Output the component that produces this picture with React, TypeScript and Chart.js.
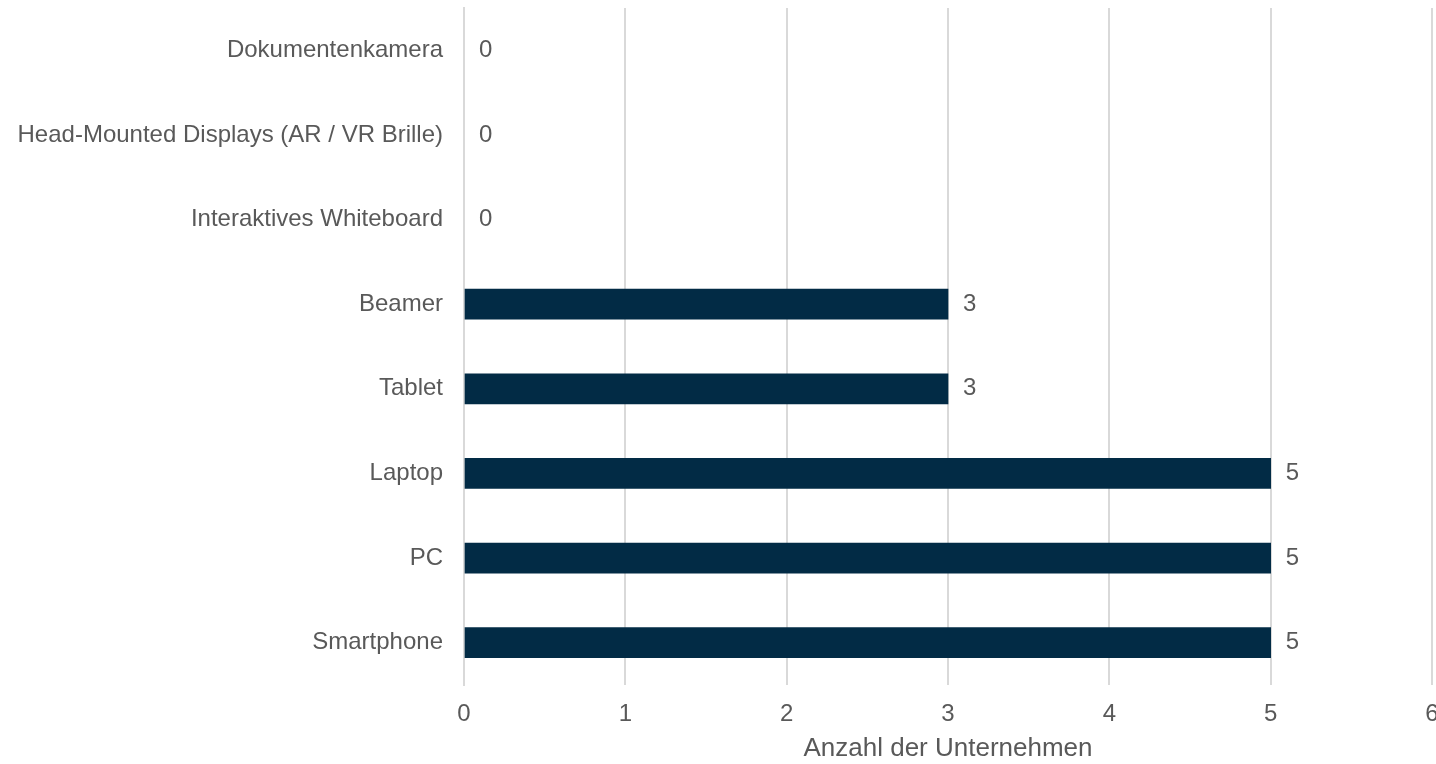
import React, { useEffect, useRef } from "react";
import { Chart, registerables } from "chart.js";

Chart.register(...registerables);

const categories = [
  "Dokumentenkamera",
  "Head-Mounted Displays (AR / VR Brille)",
  "Interaktives Whiteboard",
  "Beamer",
  "Tablet",
  "Laptop",
  "PC",
  "Smartphone",
];
const values = [0, 0, 0, 3, 3, 5, 5, 5];
const xTitle = "Anzahl der Unternehmen";

const FONT = "'Liberation Sans', Arial, sans-serif";
const TEXT = "#595959";
const GRID = "#d9d9d9";
const BAR = "#022B45";

const valueLabels = {
  id: "valueLabels",
  afterDatasetsDraw(chart: any) {
    const ctx = chart.ctx;
    const meta = chart.getDatasetMeta(0);
    ctx.save();
    ctx.font = `24px ${FONT}`;
    ctx.fillStyle = TEXT;
    ctx.textAlign = "left";
    ctx.textBaseline = "middle";
    meta.data.forEach((bar: any, i: number) => {
      ctx.fillText(String(values[i]), bar.x + 15, bar.y);
    });
    ctx.restore();
  },
};

export default function App() {
  const ref = useRef<HTMLCanvasElement>(null);
  useEffect(() => {
    if (!ref.current) return;
    const chart = new Chart(ref.current, {
      type: "bar",
      data: {
        labels: categories,
        datasets: [
          {
            data: values,
            backgroundColor: (c: any) => (c.raw === 0 ? "rgba(0,0,0,0)" : BAR),
            barThickness: 30,
          },
        ],
      },
      options: {
        indexAxis: "y",
        animation: false,
        responsive: false,
        maintainAspectRatio: false,
        layout: { padding: { top: 8, right: 4, bottom: 0, left: 0 } },
        plugins: {
          legend: { display: false },
          tooltip: { enabled: false },
        },
        scales: {
          x: {
            min: 0,
            max: 6,
            ticks: {
              stepSize: 1,
              color: TEXT,
              font: { family: FONT, size: 24 },
              padding: 15,
              maxRotation: 0,
            },
            grid: { color: GRID, lineWidth: 2, drawTicks: false },
            border: { display: false },
            title: {
              display: true,
              text: xTitle,
              color: TEXT,
              font: { family: FONT, size: 26 },
              padding: { top: 4, bottom: 0 },
            },
            afterFit: (s: any) => {
              s.height = 79;
              s.paddingRight = 0;
              s.paddingLeft = 0;
            },
          },
          y: {
            ticks: {
              color: TEXT,
              font: { family: FONT, size: 24 },
              padding: 21,
            },
            grid: { display: false, drawTicks: false },
            border: { display: true, color: GRID, width: 2 },
            afterFit: (s: any) => {
              s.width = 464;
              s.paddingTop = 0;
              s.paddingBottom = 0;
            },
          },
        },
      },
      plugins: [valueLabels],
    });
    return () => chart.destroy();
  }, []);
  return (
    <div style={{ position: "fixed", left: 0, top: 0, width: 1436, height: 764, background: "#fff" }}>
      <canvas ref={ref} width={1436} height={764} style={{ width: 1436, height: 764 }} />
    </div>
  );
}
